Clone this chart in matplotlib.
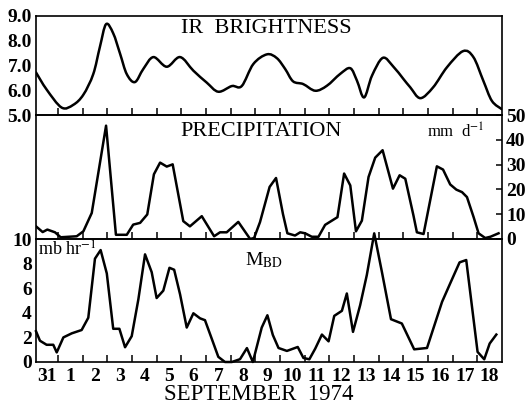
import numpy as np
import matplotlib.pyplot as plt
from matplotlib.path import Path
from matplotlib.patches import PathPatch

plt.rcParams['font.family'] = ['Liberation Serif', 'DejaVu Serif']
plt.rcParams['mathtext.fontset'] = 'stix'

# days counted from 1 Sep 1974 00Z (negative = 31 Aug)
ir_day = [-0.89, -0.46, 0.15, 0.62, 1.03, 1.43, 1.70, 1.95, 2.24, 2.52, 2.79, 3.12,
          3.46, 3.87, 4.41, 4.95, 5.49, 6.03, 6.50, 7.05, 7.45, 7.92, 8.47, 8.87,
          9.21, 9.53, 9.94, 10.43, 10.90, 11.44, 11.85, 12.12, 12.41, 12.73, 13.17,
          13.59, 14.00, 14.28, 14.69, 15.21, 15.77, 16.42, 16.84, 17.24, 17.59, 18.0]
ir_value = [6.72, 6.03, 5.30, 5.41, 5.82, 6.65, 7.75, 8.67, 8.30, 7.47, 6.65, 6.33,
            6.86, 7.34, 6.95, 7.34, 6.79, 6.31, 5.94, 6.17, 6.17, 7.06, 7.45, 7.30,
            6.86, 6.36, 6.25, 5.98, 6.18, 6.66, 6.89, 6.39, 5.71, 6.59, 7.31,
            6.96, 6.46, 6.12, 5.68, 6.12, 6.93, 7.58, 7.34, 6.39, 5.57, 5.23]

precip_day = [-0.89, -0.62, -0.43, -0.12, 0.11, 0.76, 1.03, 1.37, 1.95, 2.35, 2.79,
              3.05, 3.33, 3.62, 3.89, 4.14, 4.41, 4.65, 5.08, 5.35, 5.83, 6.33, 6.57,
              6.84, 7.31, 7.79, 7.95, 8.19, 8.58, 8.84, 9.12, 9.30, 9.61, 9.82, 10.02,
              10.29, 10.56, 10.83, 11.33, 11.60, 11.85, 12.08, 12.32, 12.59, 12.86,
              13.16, 13.58, 13.85, 14.08, 14.41, 14.55, 14.82, 15.36, 15.61, 15.90,
              16.15, 16.38, 16.58, 16.85, 17.05, 17.32, 17.53, 17.86]
precip_value = [5.1, 2.8, 3.8, 2.7, 0.7, 1.1, 3.1, 10.5, 45.7, 1.7, 1.7,
                5.8, 6.5, 9.9, 26.1, 30.8, 29.2, 30.1, 7.2, 5.1, 9.2, 1.1, 2.7,
                2.7, 6.9, 0.0, 0.4, 6.8, 21.0, 24.6, 10.1, 2.3, 1.4, 2.7, 2.3,
                0.9, 0.9, 5.7, 8.8, 26.4, 21.6, 3.1, 7.4, 25.0, 32.8,
                35.8, 20.3, 25.7, 24.3, 9.5, 2.7, 2.0, 29.3, 28.0, 22.0,
                19.9, 18.9, 16.9, 8.8, 2.3, 0.4, 0.9, 2.3]

mbd_day = [-0.89, -0.73, -0.46, -0.19, -0.05, 0.22, 0.56, 0.96, 1.23, 1.50, 1.73,
           1.98, 2.24, 2.49, 2.72, 2.99, 3.26, 3.53, 3.80, 4.00, 4.27, 4.52, 4.71,
           4.95, 5.22, 5.49, 5.76, 5.96, 6.24, 6.50, 6.77, 7.05, 7.38, 7.66, 7.90,
           8.26, 8.49, 8.71, 8.94, 9.28, 9.72, 9.95, 10.19, 10.43, 10.70, 10.97,
           11.20, 11.51, 11.71, 11.96, 12.25, 12.52, 12.82, 13.13, 13.50, 13.94,
           14.44, 14.96, 15.57, 15.90, 16.28, 16.55, 17.01, 17.28, 17.50, 17.77]
mbd_value = [2.5, 1.73, 1.4, 1.4, 0.78, 2.0, 2.33, 2.6, 3.6, 8.4, 9.1,
             7.2, 2.7, 2.7, 1.2, 2.1, 5.1, 8.75, 7.3, 5.2, 5.8, 7.66, 7.5,
             5.5, 2.8, 3.96, 3.55, 3.4, 1.86, 0.42, 0.0, 0.0, 0.23, 1.13, 0.0,
             2.8, 3.8, 2.2, 1.14, 0.9, 1.22, 0.33, 0.22, 1.09, 2.23, 1.68,
             3.75, 4.16, 5.57, 2.45, 4.62, 7.07, 10.46, 7.34, 3.48, 3.13,
             1.03, 1.14, 4.89, 6.39, 8.1, 8.29, 0.82, 0.22, 1.5, 2.23]

day_labels = ['31'] + [str(d) for d in range(1, 19)]
ir_ticks = [5.0, 6.0, 7.0, 8.0, 9.0]
precip_ticks = [0, 10, 20, 30, 40, 50]
mbd_ticks = [0, 2, 4, 6, 8, 10]


def smooth_path(xs, ys):
    # curve through the read points (Catmull-Rom drawn as cubic Bezier)
    p = np.column_stack([xs, ys]).astype(float)
    verts = [p[0]]
    codes = [Path.MOVETO]
    n = len(p)
    for i in range(n - 1):
        p0 = p[max(i - 1, 0)]
        p1, p2 = p[i], p[i + 1]
        p3 = p[min(i + 2, n - 1)]
        verts += [p1 + (p2 - p0) / 6, p2 - (p3 - p1) / 6, p2]
        codes += [Path.CURVE4] * 3
    return Path(verts, codes)


W, H = 526, 412
fig = plt.figure(figsize=(W / 100, H / 100), dpi=100)
left, right = 36 / W, 502 / W

def box(top_px, bot_px):
    return [left, 1 - bot_px / H, right - left, (bot_px - top_px) / H]

ax_ir = fig.add_axes(box(16, 115))
ax_pr = fig.add_axes(box(115, 239))
ax_mb = fig.add_axes(box(239, 362))

num_font = dict(fontsize=14, fontweight='bold')
lw = 1.8

for ax in (ax_ir, ax_pr, ax_mb):
    ax.set_xlim(-0.89, 18)
    ax.set_xticks(range(0, 18))
    ax.tick_params(axis='x', direction='in', length=5, width=1.1, labelbottom=False)
    for s in ax.spines.values():
        s.set_linewidth(1.2)
    ax.patch.set_visible(False)

# IR brightness
ax_ir.add_patch(PathPatch(smooth_path(ir_day, ir_value), facecolor='none',
                          edgecolor='black', lw=lw, capstyle='round',
                          joinstyle='round'))
ax_ir.set_ylim(5, 9)
ax_ir.set_yticks(ir_ticks)
ax_ir.set_yticklabels(['%.1f' % v for v in ir_ticks], **num_font)
ax_ir.tick_params(axis='y', length=0, pad=3)
ax_ir.text(0.494, 0.87, 'IR  BRIGHTNESS', transform=ax_ir.transAxes,
           ha='center', va='center', fontsize=16)

# precipitation
ax_pr.plot(precip_day, precip_value, color='black', lw=lw, solid_joinstyle='round')
ax_pr.set_ylim(0, 50)
ax_pr.yaxis.tick_right()
ax_pr.set_yticks(precip_ticks)
ax_pr.set_yticklabels([str(v) for v in precip_ticks], **num_font)
ax_pr.tick_params(axis='y', direction='in', length=4, width=1.1, pad=3)
ax_pr.text(0.484, 0.87, 'PRECIPITATION', transform=ax_pr.transAxes,
           ha='center', va='center', fontsize=16)
ax_pr.text(0.90, 0.86, r'mm  d$^{\mathrm{-1}}$', transform=ax_pr.transAxes,
           ha='center', va='center', fontsize=12)

# M_BD
ax_mb.plot(mbd_day, mbd_value, color='black', lw=lw, solid_joinstyle='round',
           clip_on=False, zorder=5)
ax_mb.set_ylim(0, 10)
ax_mb.set_yticks(mbd_ticks)
ax_mb.set_yticklabels([str(v) for v in mbd_ticks], **num_font)
ax_mb.tick_params(axis='y', length=0, pad=3)
label_pos = [-0.45] + [d + 0.5 for d in range(0, 18)]
ax_mb.set_xticks(label_pos, minor=True)
ax_mb.set_xticklabels(day_labels, minor=True, **num_font)
ax_mb.tick_params(axis='x', which='minor', length=0, pad=4)
ax_mb.text(0.005, 0.91, r'mb hr$^{\mathrm{-1}}$', transform=ax_mb.transAxes,
           ha='left', va='center', fontsize=13)
ax_mb.text(0.448, 0.83, r'M$_{\mathrm{BD}}$', transform=ax_mb.transAxes,
           ha='left', va='center', fontsize=14)

fig.text(259 / W, 1 - 395 / H, 'SEPTEMBER  1974', ha='center', va='center',
         fontsize=16.5)

fig.savefig('out.png', dpi=100)
